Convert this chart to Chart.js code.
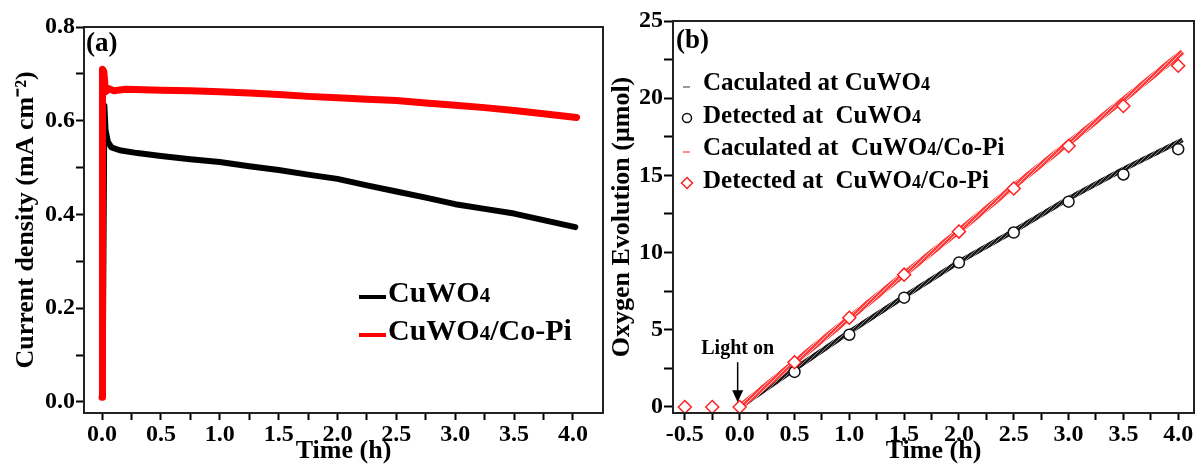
<!DOCTYPE html>
<html>
<head>
<meta charset="utf-8">
<script src="https://cdn.jsdelivr.net/npm/chart.js@4.4.1/dist/chart.umd.min.js"></script>
<style>
  html, body { margin: 0; padding: 0; background: #fff; }
  #wrap { position: relative; width: 1202px; height: 464px; overflow: hidden; }
  .panel { position: absolute; top: 0; height: 464px; }
  #panelA { left: 0; width: 606px; }
  #panelB { left: 606px; width: 596px; }
</style>
</head>
<body>
<div id="wrap">
  <div class="panel" id="panelA"><canvas id="chartA"></canvas></div>
  <div class="panel" id="panelB"><canvas id="chartB"></canvas></div>
</div>
<script>
// ---- (a) current density vs time ----
const timeCoPiA = [0, 0.004, 0.015, 0.03, 0.06, 0.1, 0.2, 0.35, 0.5, 0.75, 1.0, 1.25, 1.5, 1.75, 2.0, 2.25, 2.5, 2.75, 3.0, 3.25, 3.5, 3.75, 4.03];
const densityCoPi = [0.01, 0.71, 0.705, 0.662, 0.668, 0.664, 0.667, 0.666, 0.665, 0.664, 0.662, 0.659, 0.656, 0.652, 0.649, 0.646, 0.643, 0.638, 0.633, 0.628, 0.622, 0.615, 0.607];
const timeCuWO4A = [0.005, 0.02, 0.03, 0.05, 0.08, 0.15, 0.3, 0.5, 0.75, 1.0, 1.25, 1.5, 1.75, 2.0, 2.25, 2.5, 2.75, 3.0, 3.25, 3.5, 3.75, 4.02];
const densityCuWO4 = [0.02, 0.632, 0.58, 0.555, 0.543, 0.537, 0.531, 0.525, 0.518, 0.512, 0.503, 0.495, 0.485, 0.476, 0.462, 0.449, 0.436, 0.422, 0.412, 0.402, 0.388, 0.373];

const xTicksA = [0, 0.25, 0.5, 0.75, 1, 1.25, 1.5, 1.75, 2, 2.25, 2.5, 2.75, 3, 3.25, 3.5, 3.75, 4];
const xLabelsA = ['0.0', '', '0.5', '', '1.0', '', '1.5', '', '2.0', '', '2.5', '', '3.0', '', '3.5', '', '4.0'];
const yTicksA = [0, 0.1, 0.2, 0.3, 0.4, 0.5, 0.6, 0.7, 0.8];
const yLabelsA = ['0.0', '', '0.2', '', '0.4', '', '0.6', '', '0.8'];

// ---- (b) oxygen evolution vs time ----
const timeCalc = [0.02, 0.5, 1.0, 1.5, 2.0, 2.5, 3.0, 3.5, 4.04];
const calcCuWO4 = [0.1, 2.45, 4.85, 7.15, 9.4, 11.4, 13.5, 15.4, 17.3];
const calcCoPi = [0.1, 2.9, 5.75, 8.6, 11.4, 14.3, 17.1, 19.9, 23.0];
const timeDetCuWO4 = [0.5, 1.0, 1.5, 2.0, 2.5, 3.0, 3.5, 4.0];
const detCuWO4 = [2.27, 4.68, 7.08, 9.35, 11.3, 13.3, 15.06, 16.7];
const timeDetCoPi = [-0.5, -0.25, 0, 0.5, 1.0, 1.5, 2.0, 2.5, 3.0, 3.5, 4.0];
const detCoPi = [0, 0, 0, 2.9, 5.78, 8.57, 11.36, 14.15, 16.9, 19.5, 22.1];

const xTicksB = [-0.5, -0.25, 0, 0.25, 0.5, 0.75, 1, 1.25, 1.5, 1.75, 2, 2.25, 2.5, 2.75, 3, 3.25, 3.5, 3.75, 4];
const xLabelsB = ['-0.5', '', '0.0', '', '0.5', '', '1.0', '', '1.5', '', '2.0', '', '2.5', '', '3.0', '', '3.5', '', '4.0'];
const yTicksB = [0, 2.5, 5, 7.5, 10, 12.5, 15, 17.5, 20, 22.5, 25];
const yLabelsB = ['0', '', '5', '', '10', '', '15', '', '20', '', '25'];

const FONT = '"Liberation Serif", "Times New Roman", serif';
Chart.defaults.font.family = FONT;
Chart.defaults.font.weight = 'bold';
Chart.defaults.color = '#000';

function pts(xs, ys) {
  return xs.map((x, i) => ({ x: x, y: ys[i] }));
}

function stripes(base, light) {
  const c = document.createElement('canvas');
  c.width = 4; c.height = 4;
  const g = c.getContext('2d');
  g.fillStyle = base; g.fillRect(0, 0, 4, 4);
  g.strokeStyle = light; g.lineWidth = 1;
  g.beginPath(); g.moveTo(0, 4); g.lineTo(4, 0); g.stroke();
  return g.createPattern(c, 'repeat');
}

// text with the digits drawn as small subscripts (CuWO4)
function chemText(ctx, text, x, y, size) {
  const parts = text.split(/(\d)/);
  parts.forEach((p) => {
    if (!p) return;
    const sub = /^\d$/.test(p);
    ctx.font = 'bold ' + (sub ? Math.round(size * 0.7) : size) + 'px ' + FONT;
    ctx.fillText(p, x, y);
    x += ctx.measureText(p).width;
  });
}

function axis(ticks, labels, min, max, tickLen, pad, title, titlePad, size) {
  return {
    type: 'linear', min: min, max: max,
    afterBuildTicks: (s) => { s.ticks = ticks.map((v) => ({ value: v })); },
    afterFit: (s) => { if (s.isHorizontal()) s.height = size; else s.width = size; },
    border: { display: false },
    grid: { display: true, drawOnChartArea: false, drawTicks: true, tickLength: tickLen, tickWidth: 2, tickColor: '#000' },
    ticks: {
      autoSkip: false, maxRotation: 0, minRotation: 0, padding: pad,
      font: { size: 24, weight: 'bold' },
      callback: (v, i) => labels[i]
    },
    title: { display: true, text: title, font: { size: 26, weight: 'bold', lineHeight: 1 }, padding: titlePad }
  };
}

const frame = {
  id: 'frame',
  afterDraw(chart) {
    const a = chart.chartArea, ctx = chart.ctx;
    ctx.save();
    ctx.strokeStyle = '#222';
    ctx.lineWidth = 2;
    ctx.strokeRect(a.left, a.top, a.right - a.left, a.bottom - a.top);
    ctx.restore();
  }
};

const legendA = {
  id: 'legendA',
  afterDraw(chart) {
    const ctx = chart.ctx;
    ctx.save();
    ctx.font = 'bold 27px ' + FONT;
    ctx.textBaseline = 'alphabetic';
    ctx.fillText('(a)', 86, 51);
    const rows = [{ ds: 1, y: 302 }, { ds: 0, y: 340 }];
    rows.forEach((r) => {
      const d = chart.data.datasets[r.ds];
      ctx.strokeStyle = d.borderColor;
      ctx.lineWidth = 4;
      ctx.beginPath(); ctx.moveTo(359, r.y - 5); ctx.lineTo(386, r.y - 5); ctx.stroke();
      ctx.fillStyle = '#000';
      chemText(ctx, d.label, 388, r.y, 30);
    });
    ctx.restore();
  }
};

const legendB = {
  id: 'legendB',
  afterDraw(chart) {
    const ctx = chart.ctx;
    const xs = chart.scales.x, ys = chart.scales.y;
    ctx.save();
    ctx.fillStyle = '#000';
    ctx.font = 'bold 27px ' + FONT;
    ctx.fillText('(b)', 70, 48);
    // light on annotation
    const lx = xs.getPixelForValue(0) - 2;
    ctx.font = 'bold 20px ' + FONT;
    ctx.textAlign = 'center';
    ctx.fillText('Light on', lx, ys.getPixelForValue(3.43));
    ctx.textAlign = 'left';
    const yTop = ys.getPixelForValue(2.9), yTip = ys.getPixelForValue(0.3);
    ctx.strokeStyle = '#000'; ctx.lineWidth = 1.5;
    ctx.beginPath(); ctx.moveTo(lx, yTop); ctx.lineTo(lx, yTip - 10); ctx.stroke();
    ctx.beginPath(); ctx.moveTo(lx - 5.5, yTip - 12); ctx.lineTo(lx + 5.5, yTip - 12); ctx.lineTo(lx, yTip); ctx.closePath(); ctx.fill();

    const rows = [
      { ds: 3, y: 90, kind: 'line', color: '#777' },
      { ds: 1, y: 123, kind: 'point' },
      { ds: 2, y: 155, kind: 'line', color: '#ff6666' },
      { ds: 0, y: 188, kind: 'point' }
    ];
    rows.forEach((r) => {
      const d = chart.data.datasets[r.ds];
      if (r.kind === 'line') {
        ctx.strokeStyle = r.color; ctx.lineWidth = 1.5;
        ctx.beginPath(); ctx.moveTo(77, r.y - 3); ctx.lineTo(84, r.y - 3); ctx.stroke();
      } else {
        ctx.strokeStyle = d.borderColor; ctx.fillStyle = '#fff'; ctx.lineWidth = 1.5;
        Chart.helpers.drawPoint(ctx, { pointStyle: d.pointStyle, radius: d.pointRadius - 1, rotation: 0, borderWidth: 1.5 }, 81, r.y - 5);
      }
      ctx.fillStyle = '#000';
      chemText(ctx, d.label, 97, r.y, 25);
    });
    ctx.restore();
  }
};

new Chart(document.getElementById('chartA'), {
  type: 'line',
  data: {
    datasets: [
      { label: 'CuWO4/Co-Pi', data: pts(timeCoPiA, densityCoPi), borderColor: '#ff0000', borderWidth: 7, pointRadius: 0, borderJoinStyle: 'round', borderCapStyle: 'round' },
      { label: 'CuWO4', data: pts(timeCuWO4A, densityCuWO4), borderColor: '#000000', borderWidth: 6, pointRadius: 0, borderJoinStyle: 'round', borderCapStyle: 'round' }
    ]
  },
  options: {
    animation: false, responsive: true, maintainAspectRatio: false,
    layout: { padding: { top: 27, right: 3, left: 0, bottom: 0 } },
    plugins: { legend: { display: false }, tooltip: { enabled: false } },
    scales: {
      x: axis(xTicksA, xLabelsA, -0.153, 4.255, 7, 0, 'Time (h)', { top: 0, bottom: 0 }, 51),
      y: axis(yTicksA, yLabelsA, -0.0235, 0.8, 8, 1, 'Current density (mA cm\u207B\u00B2)', { top: 13, bottom: 0 }, 84)
    }
  },
  plugins: [frame, legendA]
});

new Chart(document.getElementById('chartB'), {
  type: 'line',
  data: {
    datasets: [
      { label: 'Detected at  CuWO4/Co-Pi', data: pts(timeDetCoPi, detCoPi), showLine: false, pointStyle: 'rectRot', pointRadius: 6.5, borderColor: '#ff2020', backgroundColor: '#fff', pointBorderWidth: 1.5 },
      { label: 'Detected at  CuWO4', data: pts(timeDetCuWO4, detCuWO4), showLine: false, pointStyle: 'circle', pointRadius: 5.5, borderColor: '#111', backgroundColor: '#fff', pointBorderWidth: 1.5 },
      { label: 'Caculated at  CuWO4/Co-Pi', data: pts(timeCalc, calcCoPi), borderColor: stripes('#ff3b3b', '#ffc0c0'), borderWidth: 6, pointRadius: 0 },
      { label: 'Caculated at CuWO4', data: pts(timeCalc, calcCuWO4), borderColor: stripes('#1a1a1a', '#8a8a8a'), borderWidth: 5, pointRadius: 0 }
    ]
  },
  options: {
    animation: false, responsive: true, maintainAspectRatio: false,
    layout: { padding: { top: 21, right: 1, left: 0, bottom: 0 } },
    plugins: { legend: { display: false }, tooltip: { enabled: false } },
    scales: {
      x: axis(xTicksB, xLabelsB, -0.608, 4.144, 7, 0, 'Time (h)', { top: 0, bottom: 0 }, 51),
      y: axis(yTicksB, yLabelsB, -0.39, 25, 9, 1, 'Oxygen Evolution (\u03BCmol)', { top: 3, bottom: 0 }, 67)
    }
  },
  plugins: [frame, legendB]
});
</script>
</body>
</html>
